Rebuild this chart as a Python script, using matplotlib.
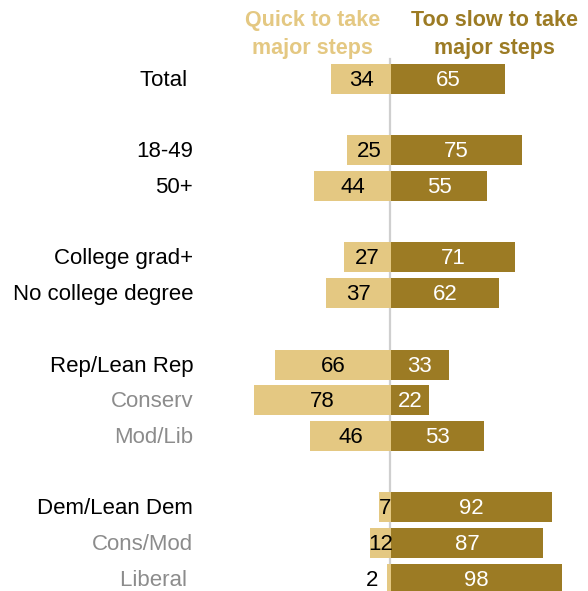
import matplotlib
matplotlib.use("Agg")
import matplotlib.pyplot as plt

# data
labels = ["Total ", "18-49", "50+", "College grad+", "No college degree",
          "Rep/Lean Rep", "Conserv", "Mod/Lib",
          "Dem/Lean Dem", "Cons/Mod", "Liberal "]
rows = [0, 2, 3, 5, 6, 8, 9, 10, 12, 13, 14]
is_sub = [False, False, False, False, False, False, True, True, False, True, True]
quick = [34, 25, 44, 27, 37, 66, 78, 46, 7, 12, 2]
too_slow = [65, 75, 55, 71, 62, 33, 22, 53, 92, 87, 98]

light = "#e4c882"
dark = "#9c7b24"
gray_txt = "#8c8c8c"

plt.rcParams["font.family"] = ["Liberation Sans", "DejaVu Sans"]

fig = plt.figure(figsize=(5.88, 5.91), dpi=100)
ax = fig.add_axes([0, 0, 1, 1])
ax.set_xlim(-223.4, 112.6)
ax.set_ylim(14.34, -2.21)
ax.axis("off")

bh = 0.84
ax.barh(rows, [-q for q in quick], height=bh, color=light, zorder=2)
ax.barh(rows, too_slow, height=bh, color=dark, zorder=2)
ax.plot([-0.5, -0.5], [-0.55, 14.4], color="#cfcfcf", lw=1.6, zorder=1)

fs = 16
for r, lab, sub, q, s in zip(rows, labels, is_sub, quick, too_slow):
    yt = r + 0.04
    ax.text(-113, yt, lab, ha="right", va="center", fontsize=fs,
            color=gray_txt if sub else "black")
    if q < 5:
        ax.text(-q - 5, yt, str(q), ha="right", va="center", fontsize=fs, color="black", zorder=3)
    else:
        ax.text(-q / 2, yt, str(q), ha="center", va="center", fontsize=fs, color="black", zorder=3)
    ax.text(s / 2, yt, str(s), ha="center", va="center", fontsize=fs, color="white", zorder=3)

ax.text(-44.6, -1.24, "Quick to take\nmajor steps", ha="center", va="center",
        fontsize=15.5, fontweight="bold", color=light, linespacing=1.4)
ax.text(59.4, -1.24, "Too slow to take\nmajor steps", ha="center", va="center",
        fontsize=15.5, fontweight="bold", color=dark, linespacing=1.4)

fig.savefig("out.png", dpi=100)
